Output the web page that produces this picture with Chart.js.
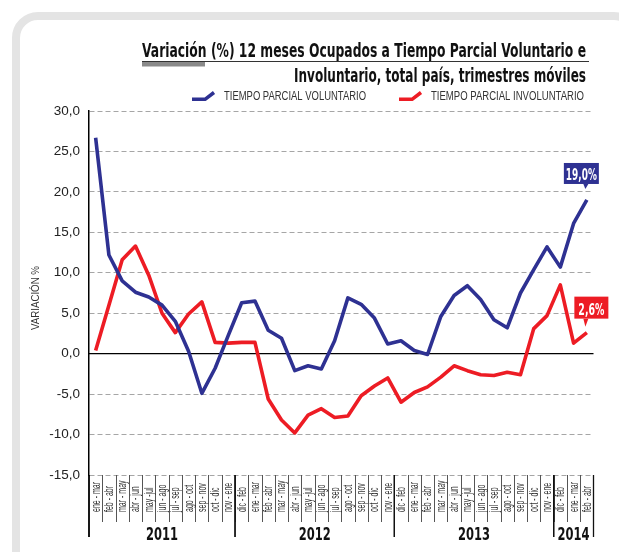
<!DOCTYPE html>
<html>
<head>
<meta charset="utf-8">
<script src="https://cdn.jsdelivr.net/npm/chart.js@4.4.1/dist/chart.umd.min.js"></script>
<style>
  html, body { margin: 0; padding: 0; background: #fff; }
  canvas { display: block; }
</style>
</head>
<body>
<canvas id="chart" width="619" height="552"></canvas>
<script>
// trimestres móviles, ene-mar 2011 .. feb-abr 2014
const periods = [
  'ene - mar', 'feb - abr', 'mar - may', 'abr - jun', 'may -jul', 'jun - ago', 'jul - sep', 'ago - oct', 'sep - nov', 'oct - dic', 'nov - ene',
  'dic - feb', 'ene - mar', 'feb - abr', 'mar - may', 'abr - jun', 'may -jul', 'jun - ago', 'jul - sep', 'ago - oct', 'sep - nov', 'oct - dic', 'nov - ene',
  'dic - feb', 'ene - mar', 'feb - abr', 'mar - may', 'abr - jun', 'may -jul', 'jun - ago', 'jul - sep', 'ago - oct', 'sep - nov', 'oct - dic', 'nov - ene',
  'dic - feb', 'ene - mar', 'feb - abr'
];
const years = ['2011', '2012', '2013', '2014'];
const yearSpans = [11, 12, 12, 3];

const voluntario = [
  26.7, 12.2, 9.0, 7.6, 7.0, 6.0, 4.0, 0.3, -4.9, -1.8, 2.3,
  6.3, 6.5, 2.9, 1.9, -2.1, -1.5, -1.9, 1.6, 6.9, 6.1, 4.4, 1.2,
  1.6, 0.4, -0.1, 4.6, 7.2, 8.4, 6.7, 4.2, 3.2, 7.5, 10.4, 13.2, 10.7,
  16.1, 19.0
];
const involuntario = [
  0.4, 6.0, 11.6, 13.3, 9.7, 5.0, 2.6, 4.9, 6.4, 1.4, 1.3,
  1.4, 1.4, -5.6, -8.2, -9.8, -7.6, -6.8, -7.9, -7.7, -5.2, -4.0, -3.0,
  -6.0, -4.8, -4.1, -2.9, -1.5, -2.1, -2.6, -2.7, -2.3, -2.6, 3.1, 4.7, 8.5,
  1.3, 2.6
];
const yMin = -15, yMax = 30, yStep = 5;

const BLUE = '#2e3192';
const RED = '#ed1c24';
const NARROW = "'Liberation Sans Narrow','DejaVu Sans Condensed','Liberation Sans',sans-serif";
const PLAIN = "'Liberation Sans',Arial,sans-serif";

// draw text squeezed to an exact width (the original uses a condensed face)
function fitText(ctx, text, x, y, w, align) {
  const nat = ctx.measureText(text).width;
  ctx.save();
  ctx.translate(x, y);
  ctx.scale(w / nat, 1);
  ctx.textAlign = align;
  ctx.fillText(text, 0, 0);
  ctx.restore();
}

function callout(ctx, text, px, py, box, tip, color, textW) {
  ctx.save();
  ctx.fillStyle = color;
  ctx.fillRect(px + box[0], py + box[1], box[2], box[3]);
  ctx.beginPath();
  ctx.moveTo(px + tip[0] - 2, py + box[1] + box[3]);
  ctx.lineTo(px + tip[0] + 3, py + box[1] + box[3]);
  ctx.lineTo(px + tip[0], py + tip[1]);
  ctx.closePath();
  ctx.fill();
  ctx.fillStyle = '#fff';
  ctx.font = 'bold 15px ' + NARROW;
  ctx.textBaseline = 'alphabetic';
  fitText(ctx, text, px + box[0] + box[2] / 2, py + box[1] + box[3] - 4, textW, 'center');
  ctx.restore();
}

const decor = {
  id: 'decor',
  beforeDraw(chart) {
    const ctx = chart.ctx;
    ctx.save();
    ctx.strokeStyle = '#e4e4e4';
    ctx.lineWidth = 8;
    ctx.beginPath();
    ctx.roundRect(16, 16, 620, 560, 22);
    ctx.stroke();
    ctx.restore();
  },
  beforeDatasetsDraw(chart) {
    const { ctx, chartArea: a, scales: { y } } = chart;
    const y0 = y.getPixelForValue(0);
    ctx.save();
    ctx.strokeStyle = '#000';
    ctx.lineWidth = 1.2;
    ctx.beginPath();
    ctx.moveTo(a.left, y0);
    ctx.lineTo(a.right, y0);
    ctx.stroke();
    ctx.restore();
  },
  afterDraw(chart) {
    const { ctx, chartArea: a, scales: { x, y } } = chart;
    ctx.save();

    // title
    ctx.fillStyle = '#111';
    ctx.font = 'bold 19px ' + NARROW;
    ctx.textBaseline = 'alphabetic';
    fitText(ctx, 'Variación (%) 12 meses Ocupados a Tiempo Parcial Voluntario e', 586, 57, 444, 'right');
    fitText(ctx, 'Involuntario, total país, trimestres móviles', 586, 82, 292, 'right');
    ctx.strokeStyle = '#333';
    ctx.lineWidth = 1;
    ctx.beginPath();
    ctx.moveTo(142, 61.5);
    ctx.lineTo(589, 61.5);
    ctx.stroke();
    ctx.fillStyle = '#8a8a8a';
    ctx.fillRect(142, 62, 63, 4.5);

    // legend
    const legend = [
      { text: 'TIEMPO PARCIAL VOLUNTARIO', color: BLUE, x: 192, w: 142 },
      { text: 'TIEMPO PARCIAL INVOLUNTARIO', color: RED, x: 399, w: 153 }
    ];
    ctx.lineWidth = 3.5;
    ctx.lineJoin = 'round';
    ctx.font = '12.5px ' + PLAIN;
    ctx.textBaseline = 'middle';
    legend.forEach(l => {
      ctx.strokeStyle = l.color;
      ctx.beginPath();
      ctx.moveTo(l.x, 99.3);
      ctx.lineTo(l.x + 13, 99.3);
      ctx.lineTo(l.x + 22, 92.5);
      ctx.stroke();
      ctx.fillStyle = '#333';
      fitText(ctx, l.text, l.x + 32, 96.5, l.w, 'left');
    });

    // y title
    ctx.save();
    ctx.translate(36, 298);
    ctx.rotate(-Math.PI / 2);
    ctx.font = '11.5px ' + PLAIN;
    ctx.fillStyle = '#333';
    ctx.textBaseline = 'middle';
    fitText(ctx, 'VARIACIÓN %', 0, 0, 64, 'center');
    ctx.restore();

    // x axis: cell separators, period labels, year groups
    const half = (x.getPixelForValue(1) - x.getPixelForValue(0)) / 2;
    const top = a.bottom;
    ctx.strokeStyle = '#555';
    ctx.lineWidth = 1;
    for (let i = 1; i < periods.length; i++) {
      const sx = Math.round(x.getPixelForValue(i) - half) + 0.5;
      ctx.beginPath();
      ctx.moveTo(sx, top);
      ctx.lineTo(sx, top + 47);
      ctx.stroke();
    }
    ctx.font = '12.5px ' + PLAIN;
    const k = 30 / ctx.measureText('ene - mar').width;
    ctx.fillStyle = '#333';
    ctx.textBaseline = 'middle';
    periods.forEach((p, i) => {
      ctx.save();
      ctx.translate(x.getPixelForValue(i) + 0.5, top + 37);
      ctx.rotate(-Math.PI / 2);
      ctx.scale(k, 1);
      ctx.textAlign = 'left';
      ctx.fillText(p, 0, 0);
      ctx.restore();
    });

    ctx.strokeStyle = '#111';
    ctx.lineWidth = 1.3;
    ctx.font = 'bold 17px ' + NARROW;
    ctx.fillStyle = '#111';
    ctx.textBaseline = 'alphabetic';
    let start = 0;
    years.forEach((yr, j) => {
      const end = start + yearSpans[j] - 1;
      const x0 = x.getPixelForValue(start) - half;
      const x1 = x.getPixelForValue(end) + half;
      [x0, x1].forEach(bx => {
        ctx.beginPath();
        ctx.moveTo(bx, top);
        ctx.lineTo(bx, top + 62);
        ctx.stroke();
      });
      fitText(ctx, yr, (x0 + x1) / 2, top + 65, 32, 'center');
      start = end + 1;
    });
    // left axis runs down through the label band
    ctx.strokeStyle = '#000';
    ctx.lineWidth = 1.5;
    ctx.beginPath();
    ctx.moveTo(a.left, top);
    ctx.lineTo(a.left, top + 62);
    ctx.stroke();

    // end-value callouts
    const last = periods.length - 1;
    const m0 = chart.getDatasetMeta(0).data[last];
    const m1 = chart.getDatasetMeta(1).data[last];
    callout(ctx, '19,0%', m0.x, m0.y, [-23, -37, 35, 21], [-1.5, -11], BLUE, 31);
    callout(ctx, '2,6%', m1.x, m1.y, [-12.5, -36, 34, 22], [-1.5, -6], RED, 26);

    ctx.restore();
  }
};

new Chart(document.getElementById('chart'), {
  type: 'line',
  data: {
    labels: periods,
    datasets: [
      { label: 'TIEMPO PARCIAL VOLUNTARIO', data: voluntario, borderColor: BLUE, borderWidth: 3.6, pointRadius: 0, tension: 0, borderJoinStyle: 'round' },
      { label: 'TIEMPO PARCIAL INVOLUNTARIO', data: involuntario, borderColor: RED, borderWidth: 3.6, pointRadius: 0, tension: 0, borderJoinStyle: 'round' }
    ]
  },
  options: {
    responsive: false,
    animation: false,
    layout: { padding: { top: 111, right: 25.5, left: 0, bottom: 0 } },
    plugins: { legend: { display: false }, tooltip: { enabled: false } },
    scales: {
      x: {
        offset: true,
        ticks: { display: false },
        grid: { display: false },
        border: { display: false },
        afterFit: s => { s.height = 77; }
      },
      y: {
        min: yMin,
        max: yMax,
        ticks: {
          stepSize: yStep,
          padding: 9,
          color: '#222',
          font: { family: PLAIN, size: 13.5 },
          callback: v => v.toFixed(1).replace('.', ',')
        },
        grid: { color: '#a6a6a6', lineWidth: 1, drawTicks: false },
        border: { display: true, color: '#000', width: 1.5, dash: [5, 3] },
        afterFit: s => { s.width = 89; }
      }
    }
  },
  plugins: [decor]
});
</script>
</body>
</html>
